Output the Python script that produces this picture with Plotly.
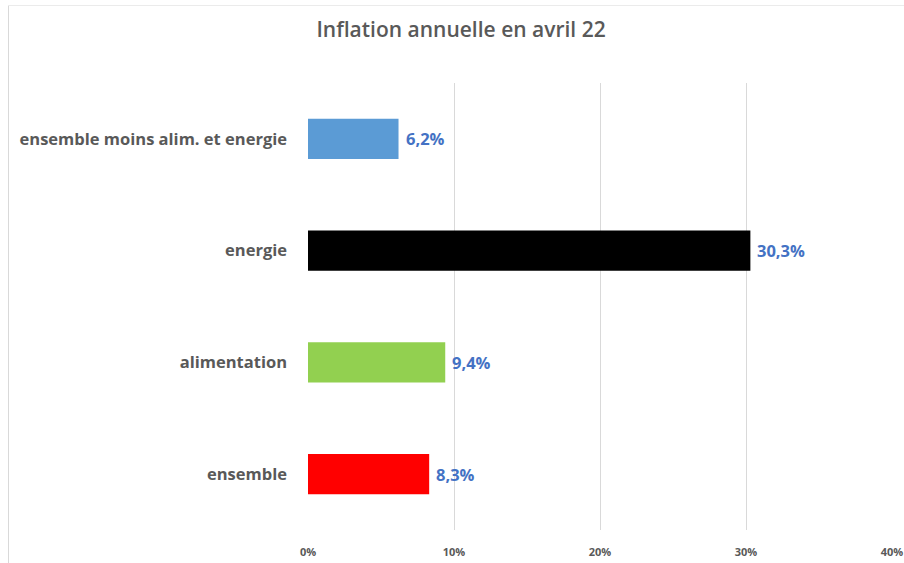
import plotly.graph_objects as go

categories = ["ensemble", "alimentation", "energie", "ensemble moins alim. et energie"]
values = [8.3, 9.4, 30.3, 6.2]
colors = ["#FF0000", "#92D050", "#000000", "#5B9BD5"]
tick_vals = [0, 10, 20, 30, 40]
tick_text = [f"{v}%" for v in tick_vals]

font = "Open Sans"

fig = go.Figure()
fig.add_trace(go.Bar(
    y=categories, x=values, orientation="h",
    marker=dict(color=colors, line=dict(width=0)),
    hoverinfo="x+y",
))

# value labels, French decimal comma
for cat, v in zip(categories, values):
    fig.add_annotation(x=v, y=cat, text=f"{v:.1f}".replace(".", ",") + "%",
                       xanchor="left", xshift=5, showarrow=False,
                       font=dict(family=font, size=16.5, color="#4472C4", weight="bold"))

L, R, T, B = 308, 12, 83, 33
W, H = 904 - L - R, 563 - T - B

fig.update_layout(
    width=904, height=563,
    margin=dict(l=L, r=R, t=T, b=B, autoexpand=False),
    paper_bgcolor="white", plot_bgcolor="white",
    bargap=0.64,
    showlegend=False,
    title=dict(text="Inflation annuelle en avril 22", x=0.51, xanchor="center",
               y=1 - 30 / 563, yanchor="middle",
               font=dict(family=font, size=21, color="#595959", weight=600)),
    xaxis=dict(range=[0, 40], tickmode="array", tickvals=tick_vals, ticktext=tick_text,
               showgrid=True, gridcolor="#D9D9D9", gridwidth=1,
               zeroline=False, showline=False, automargin=False,
               ticklabeloverflow="allow",
               tickfont=dict(family=font, size=11, color="#595959", weight="bold"),
               ticks="", ticklabelstandoff=14),
    yaxis=dict(showgrid=False, showline=False, ticks="", automargin=False,
               tickfont=dict(family=font, size=16.5, color="#595959", weight="bold"),
               ticklabelstandoff=20),
)

# outer chart frame
fig.add_shape(type="line", xref="paper", yref="paper",
              x0=-(L - 8.5) / W, x1=-(L - 8.5) / W, y0=-B / H, y1=1 + (T - 5.5) / H,
              line=dict(color="#D9D9D9", width=1))
fig.add_shape(type="line", xref="paper", yref="paper",
              x0=-(L - 8.5) / W, x1=1 + R / W, y0=1 + (T - 5.5) / H, y1=1 + (T - 5.5) / H,
              line=dict(color="#EBEBEB", width=1))

# drop the default 8px body margin so the figure fills the window
fig.write_html("out.html", config={"displayModeBar": False},
               post_script="document.body.style.margin='0';")
